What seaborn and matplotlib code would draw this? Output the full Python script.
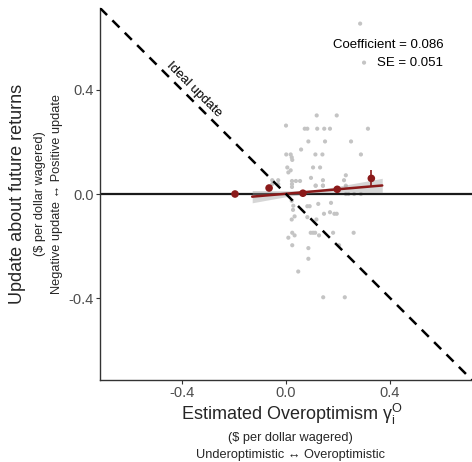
import numpy as np
import pandas as pd
import matplotlib
matplotlib.use("Agg")
import matplotlib.pyplot as plt
import seaborn as sns

# Individual-level scatter (overoptimism, update)
scatter_x = [0.118, 0.195, 0.000, 0.072, 0.082, 0.120, 0.147, 0.169, 0.315, 0.086,
             0.150, 0.250, 0.058, 0.001, 0.018, 0.022, 0.024, 0.113, 0.140, 0.288,
             0.005, 0.018, 0.104, 0.131, 0.009, 0.230, 0.096, 0.142, 0.223, -0.053,
             -0.030, 0.023, 0.038, 0.054, 0.023, 0.023, 0.114, 0.142, 0.230, 0.022,
             0.082, 0.091, 0.124, 0.173, 0.146, 0.169, 0.186, 0.195, 0.033, 0.022,
             0.082, 0.117, 0.095, 0.104, 0.112, 0.024, 0.033, 0.009, 0.127, 0.181,
             0.260, 0.024, 0.086, 0.204, 0.086, 0.047, 0.143, 0.226, 0.285, 0.300,
             0.230, 0.240, 0.262, 0.288, 0.028, 0.027, -0.053, -0.030, 0.114, 0.142]
scatter_y = [0.302, 0.302, 0.263, 0.251, 0.251, 0.251, 0.251, 0.251, 0.251, 0.202,
             0.202, 0.202, 0.171, 0.152, 0.152, 0.141, 0.131, 0.152, 0.152, 0.152,
             0.102, 0.091, 0.102, 0.102, 0.083, 0.072, 0.062, 0.053, 0.053, 0.053,
             0.053, 0.050, 0.050, 0.050, 0.038, 0.027, 0.032, 0.032, 0.032, -0.026,
             -0.047, -0.047, -0.038, -0.034, -0.076, -0.070, -0.076, -0.076, -0.086, -0.098,
             -0.089, -0.098, -0.149, -0.149, -0.149, -0.149, -0.159, -0.168, -0.159, -0.149,
             -0.149, -0.197, -0.208, -0.197, -0.249, -0.298, -0.397, -0.397, 0.655, 0.505,
             0.000, 0.000, 0.000, 0.000, -0.045, -0.061, 0.038, 0.038, 0.032, 0.032]

# Binned means
bin_x = [-0.196, -0.065, 0.065, 0.197, 0.328]
bin_y = [0.000, 0.023, 0.003, 0.018, 0.060]
bin_se = [0.004, 0.006, 0.004, 0.006, 0.031]

# Regression
coef = 0.086
se = 0.051
intercept = 0.001
fit_range = [-0.13, 0.37]
fit_center = 0.10
fit_s0 = 0.003

x_ticks = [-0.4, 0.0, 0.4]
y_ticks = [-0.4, 0.0, 0.4]
lim = 0.715

sns.set_theme(style="white")
plt.rcParams['font.family'] = ['Liberation Sans', 'DejaVu Sans']
plt.rcParams['mathtext.default'] = 'regular'

fig = plt.figure(figsize=(4.72, 4.62), dpi=100)
ax = fig.add_axes([100/472, 82/462, 372/472, 372/462])

red = "#8b1a1a"

ax.axhline(0, color="#1a1a1a", lw=1.6, zorder=2)
ax.axline((0, 0), slope=-1, color="black", lw=1.8, ls=(0, (4, 3)), zorder=5)

df = pd.DataFrame({"x": scatter_x, "y": scatter_y})
sns.scatterplot(data=df, x="x", y="y", ax=ax, color="#c4c4c4", s=9,
                edgecolor="none", zorder=1)

xf = np.linspace(fit_range[0], fit_range[1], 100)
yf = intercept + coef * xf
hw = 1.96 * np.sqrt(fit_s0**2 + (se * (xf - fit_center))**2)
ax.fill_between(xf, yf - hw, yf + hw, color="#999999", alpha=0.4, lw=0, zorder=3)
sns.lineplot(x=xf, y=yf, ax=ax, color=red, lw=1.8, zorder=4)

ax.errorbar(bin_x, bin_y, yerr=bin_se, fmt="none", ecolor=red, elinewidth=1.2, zorder=6)
sns.scatterplot(x=bin_x, y=bin_y, ax=ax, color=red, s=30, edgecolor="none", zorder=7)

ax.set_xlim(-lim, lim)
ax.set_ylim(-lim, lim)
ax.set_xticks(x_ticks)
ax.set_yticks(y_ticks)
ax.set_xticklabels([f"{t:.1f}" for t in x_ticks])
ax.set_yticklabels([f"{t:.1f}" for t in y_ticks])
ax.tick_params(axis="both", labelsize=10.5, labelcolor="#4d4d4d", length=3,
               width=0.8, color="#333333", direction="out", bottom=True, left=True, pad=1.5)
for s in ["top", "right"]:
    ax.spines[s].set_visible(False)
for s in ["left", "bottom"]:
    ax.spines[s].set_color("#333333")
    ax.spines[s].set_linewidth(1.0)
ax.set_xlabel("")
ax.set_ylabel("")

ax.text(0.605, 0.571, f"Coefficient = {coef:.3f}", ha="right", va="center", fontsize=9.5, color="black")
ax.text(0.605, 0.503, f"SE = {se:.3f}", ha="right", va="center", fontsize=9.5, color="black")

ax.text(-0.354, 0.40, "Ideal update", rotation=-45, ha="center", va="center",
        fontsize=9.5, color="black", rotation_mode="anchor")

# Axis titles
fig.text(292/472, 1 - 420/462, r"Estimated Overoptimism $\gamma_i^O$", ha="center", va="baseline",
         fontsize=13)
fig.text(290/472, 1 - 438/462, "($ per dollar wagered)", ha="center", va="center", fontsize=9.2)
fig.text(290/472, 1 - 455/462, "Underoptimistic \u2194 Overoptimistic", ha="center", va="center", fontsize=9.2)

fig.text(18/472, 1 - 194/462, "Update about future returns", ha="center", va="center",
         rotation=90, fontsize=13)
fig.text(40/472, 1 - 194/462, "($ per dollar wagered)", ha="center", va="center",
         rotation=90, fontsize=9.2)
fig.text(57/472, 1 - 194/462, "Negative update \u2194 Positive update", ha="center", va="center",
         rotation=90, fontsize=9.2)

fig.savefig("out.png", dpi=100)
